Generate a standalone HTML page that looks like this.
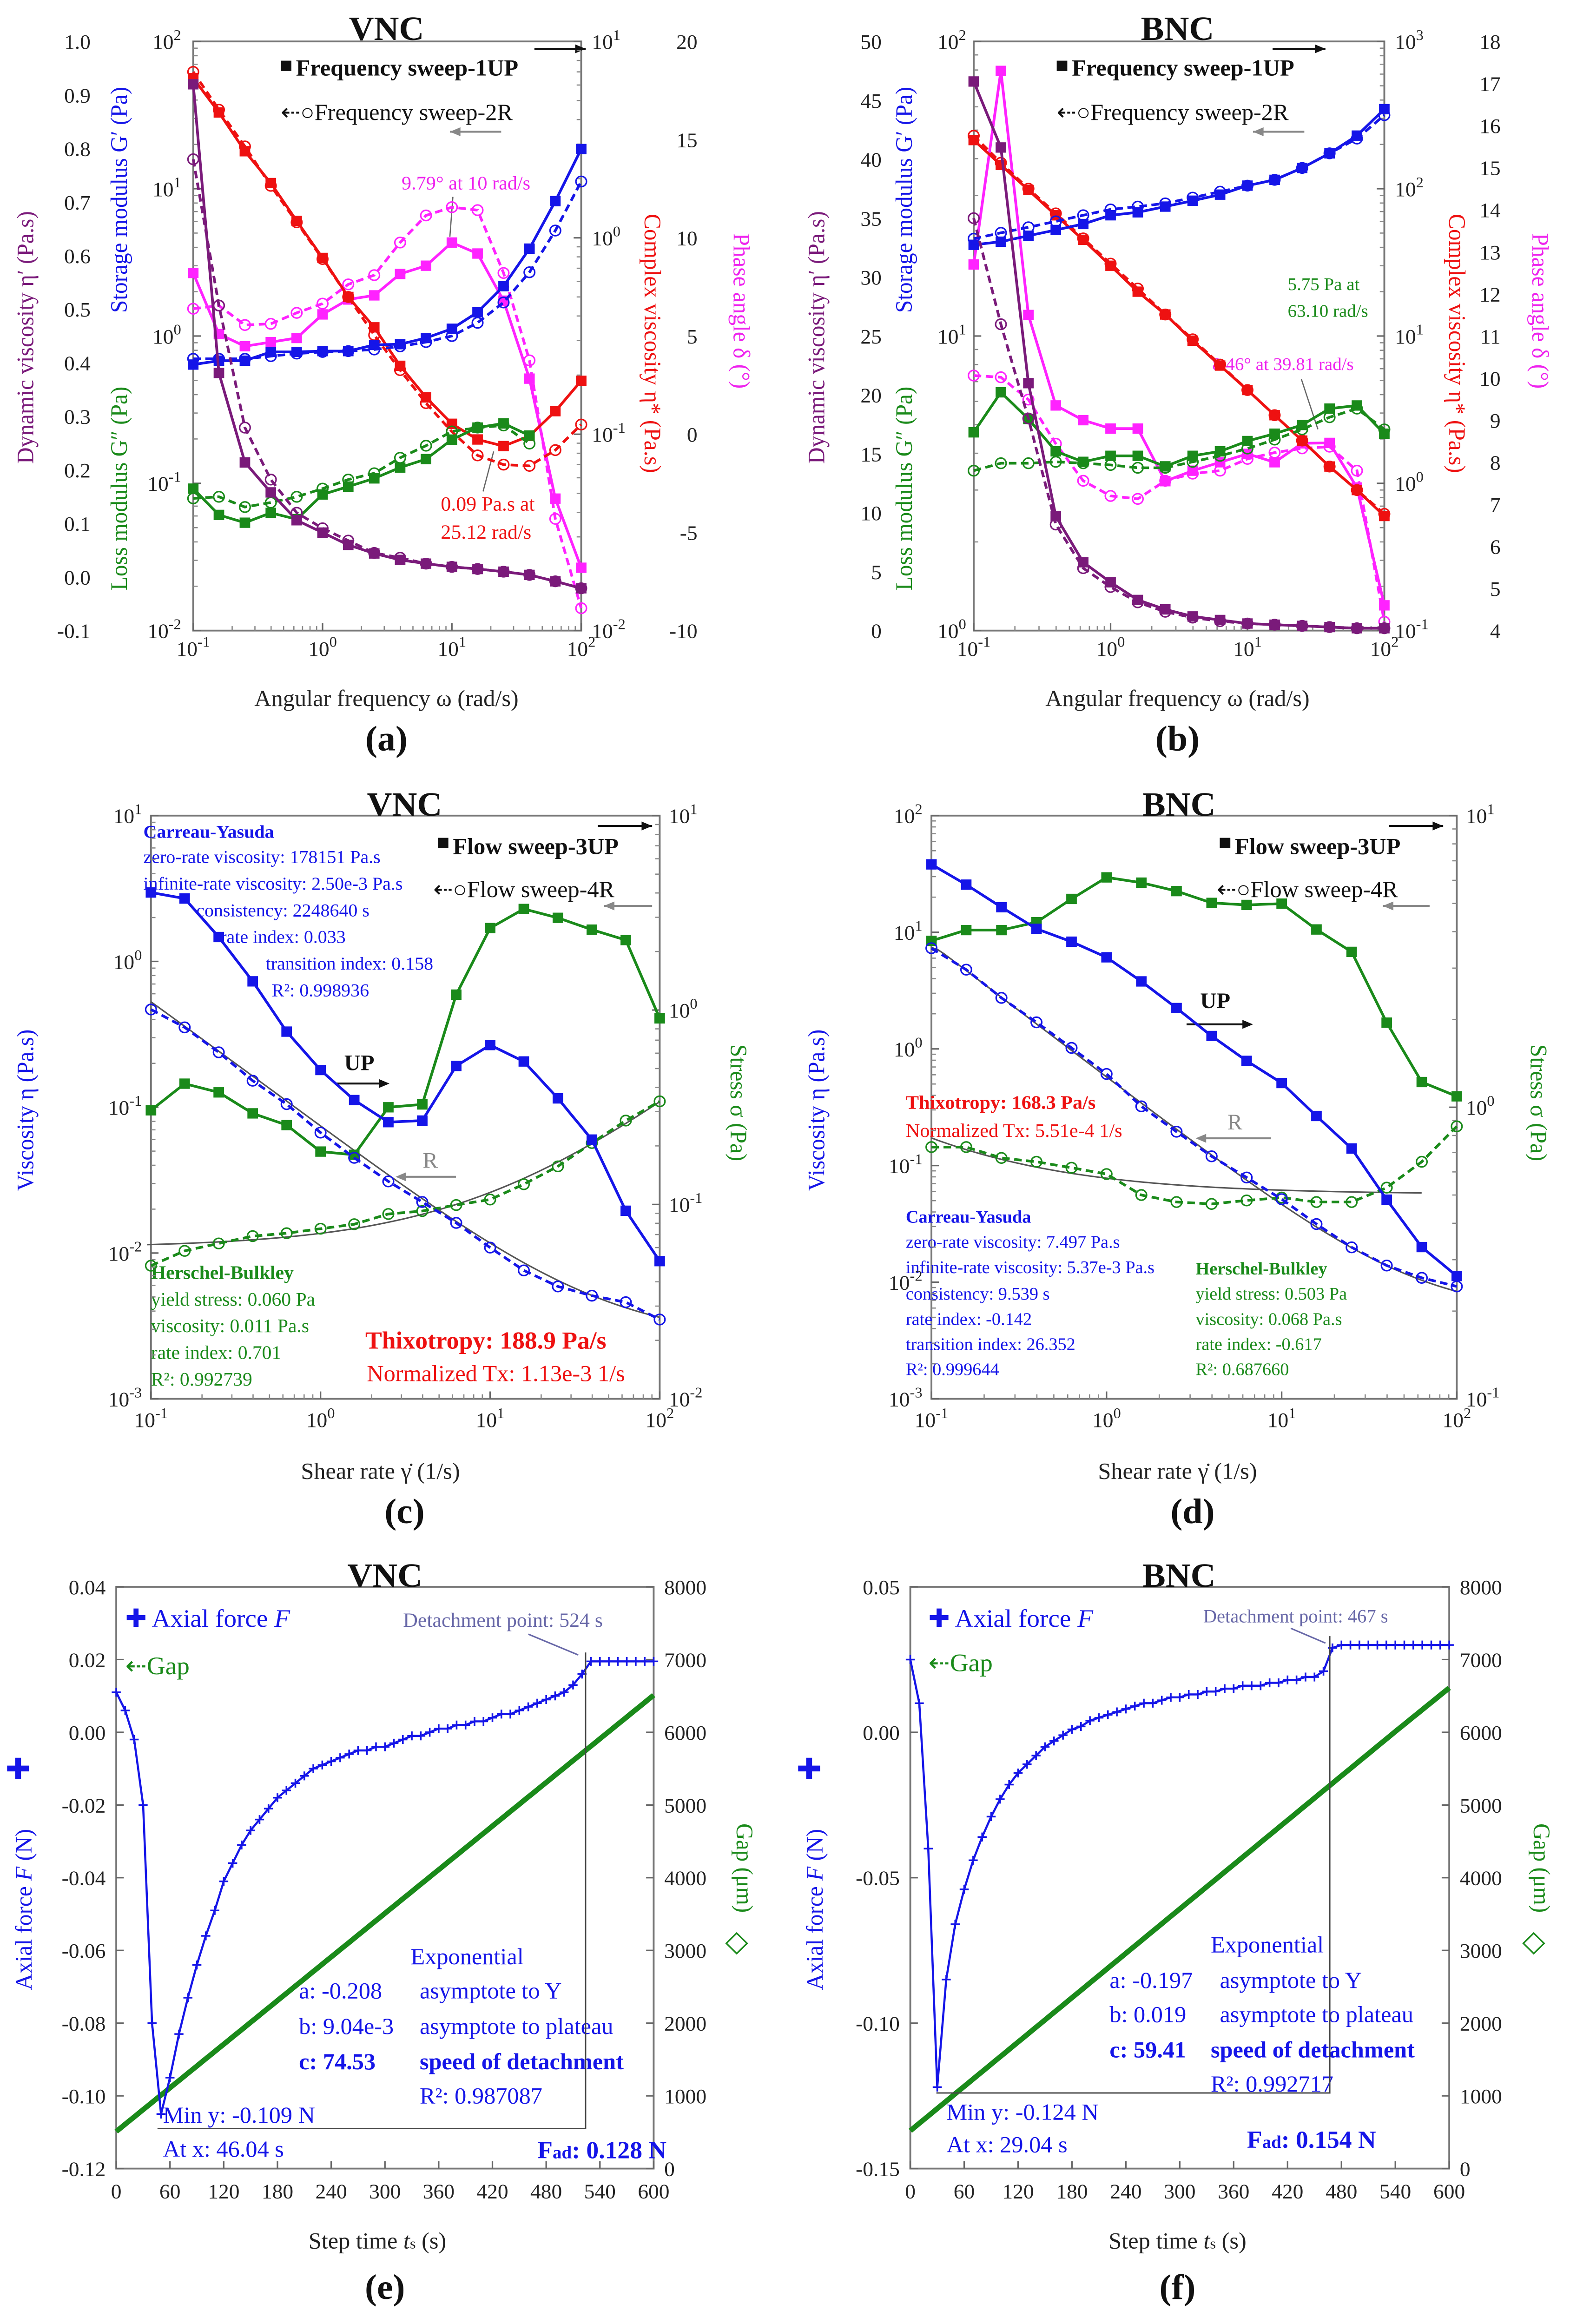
<!DOCTYPE html>
<html><head><meta charset="utf-8">
<style>
html,body{margin:0;padding:0;background:#fff;width:100%;height:100%;overflow:hidden}
svg{display:block;position:fixed;left:0;top:0;width:100vw;height:100vh;overflow:hidden}
text{font-family:"Liberation Serif",serif}
</style></head>
<body>
<svg id="fig" viewBox="0 0 1040 1570" preserveAspectRatio="none" xmlns="http://www.w3.org/2000/svg">
<rect x="0" y="0" width="1040" height="1570" fill="#fff"/>
<!-- frames -->
<rect x="128" y="28" width="257" height="398" fill="none" stroke="#777" stroke-width="1.2"/>
<rect x="645" y="28" width="272" height="398" fill="none" stroke="#777" stroke-width="1.2"/>
<rect x="100" y="551" width="337" height="394" fill="none" stroke="#777" stroke-width="1.2"/>
<rect x="617" y="551" width="348" height="394" fill="none" stroke="#777" stroke-width="1.2"/>
<rect x="77" y="1072" width="356" height="393" fill="none" stroke="#777" stroke-width="1.2"/>
<rect x="603" y="1072" width="357" height="393" fill="none" stroke="#777" stroke-width="1.2"/>

<!-- titles -->
<g font-weight="bold" font-size="23" text-anchor="middle" fill="#111">
<text x="256" y="27">VNC</text>
<text x="780" y="27">BNC</text>
<text x="268" y="551">VNC</text>
<text x="781" y="551">BNC</text>
<text x="255" y="1072">VNC</text>
<text x="781" y="1072">BNC</text>
<text x="256" y="507" font-size="24">(a)</text>
<text x="780" y="507" font-size="24">(b)</text>
<text x="268" y="1029" font-size="24">(c)</text>
<text x="790" y="1029" font-size="24">(d)</text>
<text x="255" y="1553" font-size="24">(e)</text>
<text x="780" y="1553" font-size="24">(f)</text>
</g>

<!-- x axis titles -->
<g font-size="15.5" text-anchor="middle" fill="#222">
<text x="256" y="477">Angular frequency  ω  (rad/s)</text>
<text x="780" y="477">Angular frequency  ω  (rad/s)</text>
<text x="252" y="999">Shear rate  γ̇  (1/s)</text>
<text x="780" y="999">Shear rate  γ̇  (1/s)</text>
<text x="250" y="1519">Step time  <tspan font-style="italic">t</tspan><tspan font-size="10">s</tspan>  (s)</text>
<text x="780" y="1519">Step time  <tspan font-style="italic">t</tspan><tspan font-size="10">s</tspan>  (s)</text>
</g>

<!-- y axis titles -->
<g font-size="15.5" text-anchor="middle">
<text transform="rotate(-90 22 228)" x="22" y="228" fill="#7a1a7a">Dynamic viscosity  η′  (Pa.s)</text>
<text transform="rotate(-90 84 135)" x="84" y="135" fill="#1515e8">Storage modulus  G′  (Pa)</text>
<text transform="rotate(-90 84 330)" x="84" y="330" fill="#1a8a1a">Loss modulus  G″  (Pa)</text>
<text transform="rotate(90 427 232)" x="427" y="232" fill="#ee1111">Complex viscosity  η*  (Pa.s)</text>
<text transform="rotate(90 486 210)" x="486" y="210" fill="#ee22ee">Phase angle  δ  (°)</text>

<text transform="rotate(-90 546 228)" x="546" y="228" fill="#7a1a7a">Dynamic viscosity  η′  (Pa.s)</text>
<text transform="rotate(-90 604 135)" x="604" y="135" fill="#1515e8">Storage modulus  G′  (Pa)</text>
<text transform="rotate(-90 604 330)" x="604" y="330" fill="#1a8a1a">Loss modulus  G″  (Pa)</text>
<text transform="rotate(90 960 232)" x="960" y="232" fill="#ee1111">Complex viscosity  η*  (Pa.s)</text>
<text transform="rotate(90 1015 210)" x="1015" y="210" fill="#ee22ee">Phase angle  δ  (°)</text>

<text transform="rotate(-90 22 750)" x="22" y="750" fill="#1515e8">Viscosity  η  (Pa.s)</text>
<text transform="rotate(90 484 745)" x="484" y="745" fill="#1a8a1a">Stress  σ  (Pa)</text>
<text transform="rotate(-90 546 750)" x="546" y="750" fill="#1515e8">Viscosity  η  (Pa.s)</text>
<text transform="rotate(90 1014 745)" x="1014" y="745" fill="#1a8a1a">Stress  σ  (Pa)</text>

<text transform="rotate(-90 21 1290)" x="21" y="1290" fill="#1515e8">Axial force  <tspan font-style="italic">F</tspan>  (N)</text>
<text x="12" y="1202" fill="#1515e8" font-size="20">✚</text>
<text transform="rotate(90 488 1262)" x="488" y="1262" fill="#1a8a1a">Gap  (μm)</text>
<text x="488" y="1318" fill="#1a8a1a" font-size="20">◇</text>
<text transform="rotate(-90 545 1290)" x="545" y="1290" fill="#1515e8">Axial force  <tspan font-style="italic">F</tspan>  (N)</text>
<text x="536" y="1202" fill="#1515e8" font-size="20">✚</text>
<text transform="rotate(90 1016 1262)" x="1016" y="1262" fill="#1a8a1a">Gap  (μm)</text>
<text x="1016" y="1318" fill="#1a8a1a" font-size="20">◇</text>
</g>

<!-- legends a,b -->
<g font-size="15.5" fill="#111">
<rect x="186" y="41" width="7" height="7" fill="#111"/>
<text x="196" y="51" font-weight="bold">Frequency sweep-1UP</text>
<text x="186" y="81">⇠○Frequency sweep-2R</text>
<line x1="354" y1="33" x2="388" y2="33" stroke="#111" stroke-width="1.3"/>
<path d="M388,33 l-7,-3 v6z" fill="#111"/>
<line x1="298" y1="89" x2="332" y2="89" stroke="#888" stroke-width="1.3"/>
<path d="M298,89 l7,-3 v6z" fill="#888"/>

<rect x="700" y="41" width="7" height="7" fill="#111"/>
<text x="710" y="51" font-weight="bold">Frequency sweep-1UP</text>
<text x="700" y="81">⇠○Frequency sweep-2R</text>
<line x1="843" y1="33" x2="878" y2="33" stroke="#111" stroke-width="1.3"/>
<path d="M878,33 l-7,-3 v6z" fill="#111"/>
<line x1="830" y1="89" x2="864" y2="89" stroke="#888" stroke-width="1.3"/>
<path d="M830,89 l7,-3 v6z" fill="#888"/>

<!-- legends c,d -->
<rect x="290" y="566" width="7" height="7" fill="#111"/>
<text x="300" y="577" font-weight="bold">Flow sweep-3UP</text>
<text x="287" y="606">⇠○Flow sweep-4R</text>
<line x1="396" y1="558" x2="432" y2="558" stroke="#111" stroke-width="1.3"/>
<path d="M432,558 l-7,-3 v6z" fill="#111"/>
<line x1="400" y1="612" x2="432" y2="612" stroke="#888" stroke-width="1.3"/>
<path d="M400,612 l7,-3 v6z" fill="#888"/>

<rect x="808" y="566" width="7" height="7" fill="#111"/>
<text x="818" y="577" font-weight="bold">Flow sweep-3UP</text>
<text x="806" y="606">⇠○Flow sweep-4R</text>
<line x1="920" y1="558" x2="956" y2="558" stroke="#111" stroke-width="1.3"/>
<path d="M956,558 l-7,-3 v6z" fill="#111"/>
<line x1="916" y1="612" x2="947" y2="612" stroke="#888" stroke-width="1.3"/>
<path d="M916,612 l7,-3 v6z" fill="#888"/>
</g>

<!-- annotations a,b -->
<g font-size="13">
<text x="266" y="128" fill="#ee22ee">9.79° at 10 rad/s</text>
<line x1="300" y1="133" x2="298" y2="160" stroke="#666" stroke-width="0.8"/>
<text x="292" y="345" fill="#ee1111" font-size="13.5">0.09 Pa.s at</text>
<text x="292" y="364" fill="#ee1111" font-size="13.5">25.12 rad/s</text>
<line x1="320" y1="332" x2="327" y2="305" stroke="#666" stroke-width="0.8"/>
<text x="853" y="196" fill="#1a8a1a" font-size="12">5.75 Pa at</text>
<text x="853" y="214" fill="#1a8a1a" font-size="12">63.10 rad/s</text>
<text x="803" y="250" fill="#ee22ee" font-size="12">8.46° at 39.81 rad/s</text>
<line x1="862" y1="256" x2="873" y2="290" stroke="#666" stroke-width="0.8"/>
</g>

<!-- annotations c -->
<g font-size="12.3" fill="#1515e8">
<text x="95" y="566" font-weight="bold">Carreau-Yasuda</text>
<text x="95" y="583">zero-rate viscosity: 178151 Pa.s</text>
<text x="95" y="601">infinite-rate viscosity: 2.50e-3 Pa.s</text>
<text x="130" y="619">consistency: 2248640 s</text>
<text x="146" y="637">rate index: 0.033</text>
<text x="176" y="655">transition index: 0.158</text>
<text x="180" y="673">R²: 0.998936</text>
</g>
<g fill="#1a8a1a" font-size="12.8">
<text x="100" y="864" font-weight="bold">Herschel-Bulkley</text>
<text x="100" y="882">yield stress: 0.060 Pa</text>
<text x="100" y="900">viscosity: 0.011 Pa.s</text>
<text x="100" y="918">rate index: 0.701</text>
<text x="100" y="936">R²: 0.992739</text>
</g>
<text x="242" y="911" fill="#ee1111" font-size="16.5" font-weight="bold">Thixotropy: 188.9 Pa/s</text>
<text x="243" y="933" fill="#ee1111" font-size="15.5">Normalized Tx: 1.13e-3 1/s</text>
<text x="228" y="723" font-size="15" font-weight="bold" fill="#111">UP</text>
<line x1="222" y1="732" x2="256" y2="732" stroke="#111" stroke-width="1.3"/>
<path d="M258,732 l-7,-3 v6z" fill="#111"/>
<text x="280" y="789" font-size="15" fill="#888">R</text>
<line x1="264" y1="795" x2="302" y2="795" stroke="#888" stroke-width="1.3"/>
<path d="M262,795 l7,-3 v6z" fill="#888"/>

<!-- annotations d -->
<text x="600" y="749" fill="#ee1111" font-size="13" font-weight="bold">Thixotropy: 168.3 Pa/s</text>
<text x="600" y="768" fill="#ee1111" font-size="13">Normalized Tx: 5.51e-4 1/s</text>
<g font-size="11.8" fill="#1515e8">
<text x="600" y="826" font-weight="bold">Carreau-Yasuda</text>
<text x="600" y="843">zero-rate viscosity: 7.497 Pa.s</text>
<text x="600" y="860">infinite-rate viscosity: 5.37e-3 Pa.s</text>
<text x="600" y="878">consistency: 9.539 s</text>
<text x="600" y="895">rate index: -0.142</text>
<text x="600" y="912">transition index: 26.352</text>
<text x="600" y="929">R²: 0.999644</text>
</g>
<g font-size="11.8" fill="#1a8a1a">
<text x="792" y="861" font-weight="bold">Herschel-Bulkley</text>
<text x="792" y="878">yield stress: 0.503 Pa</text>
<text x="792" y="895">viscosity: 0.068 Pa.s</text>
<text x="792" y="912">rate index: -0.617</text>
<text x="792" y="929">R²: 0.687660</text>
</g>
<text x="795" y="681" font-size="15" font-weight="bold" fill="#111">UP</text>
<line x1="786" y1="692" x2="828" y2="692" stroke="#111" stroke-width="1.3"/>
<path d="M830,692 l-7,-3 v6z" fill="#111"/>
<text x="813" y="763" font-size="15" fill="#888">R</text>
<line x1="796" y1="769" x2="842" y2="769" stroke="#888" stroke-width="1.3"/>
<path d="M792,769 l7,-3 v6z" fill="#888"/>

<!-- annotations e -->
<g font-size="17" fill="#1515e8">
<text x="83" y="1099">✚ Axial force <tspan font-style="italic">F</tspan></text>
<text x="615" y="1099">✚ Axial force <tspan font-style="italic">F</tspan></text>
</g>
<g font-size="17" fill="#1a8a1a">
<text x="83" y="1131">⇠Gap</text>
<text x="615" y="1129">⇠Gap</text>
</g>
<text x="267" y="1099" font-size="13.5" fill="#6868a8">Detachment point: 524 s</text>
<line x1="350" y1="1104" x2="383" y2="1118" stroke="#6868a8" stroke-width="1"/>
<text x="797" y="1096" font-size="12.5" fill="#6868a8">Detachment point: 467 s</text>
<line x1="855" y1="1100" x2="878" y2="1110" stroke="#6868a8" stroke-width="1"/>
<g font-size="15.5" fill="#1515e8">
<text x="272" y="1327">Exponential</text>
<text x="198" y="1350">a: -0.208</text>
<text x="278" y="1350">asymptote to Y</text>
<text x="198" y="1374">b: 9.04e-3</text>
<text x="278" y="1374">asymptote to plateau</text>
<text x="198" y="1398" font-weight="bold">c: 74.53</text>
<text x="278" y="1398" font-weight="bold">speed of detachment</text>
<text x="278" y="1421">R²: 0.987087</text>
<text x="108" y="1434">Min y: -0.109 N</text>
<text x="108" y="1457">At x: 46.04 s</text>
<text x="356" y="1458" font-weight="bold" font-size="16.5">F<tspan font-size="12">ad</tspan>: 0.128 N</text>

<text x="802" y="1319">Exponential</text>
<text x="735" y="1343">a: -0.197</text>
<text x="808" y="1343">asymptote to Y</text>
<text x="735" y="1366">b: 0.019</text>
<text x="808" y="1366">asymptote to plateau</text>
<text x="735" y="1390" font-weight="bold">c: 59.41</text>
<text x="802" y="1390" font-weight="bold">speed of detachment</text>
<text x="802" y="1413">R²: 0.992717</text>
<text x="627" y="1432">Min y: -0.124 N</text>
<text x="627" y="1454">At x: 29.04 s</text>
<text x="826" y="1451" font-weight="bold" font-size="16.5">F<tspan font-size="12">ad</tspan>: 0.154 N</text>
</g>
</svg>

<script>
// ---------------- DATA ----------------
const freq = [0.1,0.158,0.251,0.398,0.631,1,1.58,2.51,3.98,6.31,10,15.8,25.1,39.8,63.1,100];
const freqG = [0.1,0.158,0.251,0.398,0.631,1,1.58,2.51,3.98,6.31,10,15.8,25.1,39.8];
// panel a
const aGp1 = [0.64,0.68,0.68,0.78,0.78,0.79,0.79,0.87,0.88,0.97,1.12,1.45,2.18,3.92,8.24,18.6];
const aGp2 = [0.70,0.70,0.70,0.73,0.76,0.78,0.79,0.81,0.85,0.91,1.0,1.23,1.69,2.71,5.2,11.2];
const aGpp1 = [0.092,0.061,0.054,0.063,0.057,0.084,0.095,0.108,0.128,0.146,0.198,0.239,0.255,0.211];
const aGpp2 = [0.079,0.081,0.069,0.074,0.081,0.092,0.106,0.117,0.149,0.180,0.225,0.239,0.247,0.186];
const aEta1 = [6.5,4.35,2.76,1.9,1.22,0.79,0.50,0.35,0.223,0.154,0.113,0.094,0.087,0.098,0.131,0.187];
const aEta2 = [7.0,4.49,2.92,1.84,1.2,0.78,0.50,0.32,0.212,0.144,0.103,0.078,0.070,0.069,0.083,0.112];
const aEp1 = [0.920,0.381,0.214,0.158,0.106,0.083,0.060,0.044,0.032,0.025,0.019,0.015,0.010,0.004,-0.008,-0.021];
const aEp2 = [0.780,0.507,0.279,0.182,0.120,0.091,0.068,0.045,0.036,0.025,0.019,0.015,0.010,0.004,-0.008,-0.021];
const aPh1 = [8.21,5.10,4.48,4.69,4.90,6.10,6.86,7.07,8.16,8.58,9.76,9.20,6.80,2.83,-3.28,-6.80];
const aPh2 = [6.39,6.55,5.56,5.62,6.18,6.65,7.63,8.10,9.76,11.14,11.56,11.41,8.21,3.76,-4.31,-8.86];
// panel b
const bGp1 = [20.4,20.9,21.9,22.9,24.0,25.7,26.3,27.5,28.8,30.2,32.4,33.9,37.2,41.7,47.9,58.9];
const bGp2 = [21.4,22.4,23.4,24.5,25.7,26.9,27.5,28.2,29.5,30.9,32.4,33.9,37.2,41.7,46.8,56.2];
const bGpp1 = [4.71,6.44,5.23,4.06,3.74,3.92,3.92,3.61,3.92,4.06,4.40,4.66,4.99,5.67,5.81,4.66];
const bGpp2 = [3.49,3.70,3.70,3.74,3.70,3.65,3.57,3.57,3.74,3.92,4.15,4.45,4.82,5.30,5.67,4.82];
const bEta1 = [214,145,98,66,45,30,20,14,9.3,6.3,4.3,2.9,1.95,1.3,0.9,0.6];
const bEta2 = [229,150,100,68,46,31,21,14,9.5,6.4,4.3,2.9,1.95,1.3,0.9,0.62];
const bEp1 = [46.6,41,21,9.7,5.8,4.1,2.6,1.8,1.2,0.9,0.6,0.5,0.4,0.3,0.2,0.2];
const bEp2 = [35,26,18,9.0,5.3,3.7,2.4,1.6,1.1,0.8,0.6,0.5,0.4,0.3,0.2,0.2];
const bPh1 = [12.7,17.3,11.5,9.35,9.0,8.8,8.8,7.55,7.8,8.0,8.2,8.0,8.45,8.46,7.4,4.6];
const bPh2 = [10.06,10.02,9.49,8.44,7.56,7.20,7.13,7.56,7.73,7.80,8.08,8.23,8.33,8.37,7.80,4.21];
// panel c
const cV1 = [2.97,2.70,1.47,0.73,0.33,0.18,0.112,0.079,0.081,0.192,0.267,0.206,0.115,0.060,0.0195,0.0088];
const cV2 = [0.468,0.353,0.238,0.152,0.105,0.067,0.045,0.031,0.0224,0.0161,0.0109,0.0076,0.0059,0.0051,0.0046,0.0035];
const cS1 = [0.305,0.418,0.377,0.294,0.256,0.187,0.180,0.316,0.327,1.20,2.64,3.31,2.98,2.59,2.29,0.906];
const cS2 = [0.0484,0.0577,0.0630,0.0687,0.0711,0.0750,0.0791,0.0893,0.0925,0.0993,0.106,0.127,0.157,0.207,0.270,0.339];
// panel d
const dV1 = [38.2,25.6,16.4,10.7,8.3,6.1,3.79,2.24,1.29,0.79,0.51,0.266,0.140,0.051,0.020,0.0113];
const dV2 = [7.3,4.78,2.74,1.69,1.02,0.61,0.322,0.195,0.120,0.079,0.0515,0.0315,0.0199,0.0139,0.0109,0.0092];
const dS1 = [3.72,4.05,4.05,4.31,5.18,6.14,5.89,5.51,5.02,4.94,4.99,4.07,3.41,1.95,1.22,1.09];
const dS2 = [0.73,0.73,0.67,0.65,0.62,0.59,0.50,0.473,0.466,0.479,0.49,0.473,0.473,0.53,0.65,0.86];
// fit parameters (printed on chart)
const cCY = [178151,2.50e-3,2248640,0.033,0.158];
const cHB = [0.060,0.011,0.701];
const dCY = [7.497,5.37e-3,9.539,-0.142,26.352];
const dHB = [0.503,0.068,-0.617];
// panel e/f
const tF = [0,10,20,30,40,50,60,70,80,90,100,110,120,130,140,150,160,170,180,190,200,210,220,230,240,250,260,270,280,290,300,310,320,330,340,350,360,370,380,390,400,410,420,430,440,450,460,470,480,490,500,510,520,530,540,550,560,570,580,590,600];
const eF = [0.011,0.006,-0.002,-0.02,-0.08,-0.105,-0.095,-0.083,-0.073,-0.064,-0.056,-0.049,-0.041,-0.036,-0.031,-0.027,-0.024,-0.021,-0.018,-0.016,-0.014,-0.012,-0.010,-0.009,-0.008,-0.007,-0.006,-0.005,-0.005,-0.004,-0.004,-0.003,-0.002,-0.001,-0.001,0.000,0.001,0.001,0.002,0.002,0.003,0.003,0.004,0.005,0.005,0.006,0.007,0.008,0.009,0.010,0.011,0.013,0.016,0.0195,0.0195,0.0195,0.0195,0.0195,0.0195,0.0195,0.0195];
const fF = [0.025,0.01,-0.04,-0.122,-0.085,-0.066,-0.054,-0.044,-0.036,-0.029,-0.023,-0.018,-0.014,-0.011,-0.008,-0.005,-0.003,-0.001,0.001,0.002,0.004,0.005,0.006,0.007,0.008,0.009,0.010,0.010,0.011,0.012,0.012,0.013,0.013,0.014,0.014,0.015,0.015,0.016,0.016,0.016,0.017,0.017,0.018,0.018,0.019,0.019,0.021,0.029,0.030,0.030,0.030,0.030,0.030,0.030,0.030,0.030,0.030,0.030,0.030,0.030,0.030];
const tGap = [0,60,120,180,240,300,360,420,480,540,600];
const eGap = [510,1110,1710,2310,2910,3510,4110,4710,5310,5910,6510];
const fGap = [520,1130,1740,2350,2960,3570,4180,4790,5400,6010,6610];
const eDetach = [46.04,-0.109,524,0.0195];
const fDetach = [29.04,-0.124,467,0.030];

// tick values
const logX = [0.1,1,10,100];
const logXLabels = ['1e-1','1e0','1e1','1e2'];
const aEpTicks = [-0.1,0,0.1,0.2,0.3,0.4,0.5,0.6,0.7,0.8,0.9,1.0];
const aEpLabels = ['-0.1','0.0','0.1','0.2','0.3','0.4','0.5','0.6','0.7','0.8','0.9','1.0'];
const aGTicks = [0.01,0.1,1,10,100];
const aGLabels = ['1e-2','1e-1','1e0','1e1','1e2'];
const aEtaTicks = [0.01,0.1,1,10];
const aEtaLabels = ['1e-2','1e-1','1e0','1e1'];
const aPhTicks = [-10,-5,0,5,10,15,20];
const aPhLabels = ['-10','-5','0','5','10','15','20'];
const bEpTicks = [0,5,10,15,20,25,30,35,40,45,50];
const bEpLabels = ['0','5','10','15','20','25','30','35','40','45','50'];
const bGTicks = [1,10,100];
const bGLabels = ['1e0','1e1','1e2'];
const bEtaTicks = [0.1,1,10,100,1000];
const bEtaLabels = ['1e-1','1e0','1e1','1e2','1e3'];
const bPhTicks = [4,5,6,7,8,9,10,11,12,13,14,15,16,17,18];
const bPhLabels = ['4','5','6','7','8','9','10','11','12','13','14','15','16','17','18'];
const cVTicks = [0.001,0.01,0.1,1,10];
const cVLabels = ['1e-3','1e-2','1e-1','1e0','1e1'];
const cSTicks = [0.01,0.1,1,10];
const cSLabels = ['1e-2','1e-1','1e0','1e1'];
const dVTicks = [0.001,0.01,0.1,1,10,100];
const dVLabels = ['1e-3','1e-2','1e-1','1e0','1e1','1e2'];
const dSTicks = [0.1,1,10];
const dSLabels = ['1e-1','1e0','1e1'];
const tTicks = [0,60,120,180,240,300,360,420,480,540,600];
const tLabels = ['0','60','120','180','240','300','360','420','480','540','600'];
const eFTicks = [-0.12,-0.10,-0.08,-0.06,-0.04,-0.02,0,0.02,0.04];
const eFLabels = ['-0.12','-0.10','-0.08','-0.06','-0.04','-0.02','0.00','0.02','0.04'];
const fFTicks = [-0.15,-0.10,-0.05,0,0.05];
const fFLabels = ['-0.15','-0.10','-0.05','0.00','0.05'];
const gapTicks = [0,1000,2000,3000,4000,5000,6000,7000,8000];
const gapLabels = ['0','1000','2000','3000','4000','5000','6000','7000','8000'];

// ---------------- HELPERS ----------------
const NS='http://www.w3.org/2000/svg';
const fig=document.getElementById('fig');
function mk(tag,attrs){const e=document.createElementNS(NS,tag);for(const k in attrs)e.setAttribute(k,attrs[k]);fig.appendChild(e);return e;}
function logMap(lo,hi,p0,p1){const a=Math.log10(lo),b=Math.log10(hi);return v=>p0+(Math.log10(v)-a)/(b-a)*(p1-p0);}
function linMap(lo,hi,p0,p1){return v=>p0+(v-lo)/(hi-lo)*(p1-p0);}
function setLabel(tx,s){
  if(s.startsWith('1e')){
    tx.appendChild(document.createTextNode('10'));
    const sp=document.createElementNS(NS,'tspan');
    sp.setAttribute('dy','-6');sp.setAttribute('font-size','10');
    sp.textContent=s.slice(2);tx.appendChild(sp);
  } else tx.textContent=s;
}
function yAxis(name,vals,labels,f,axisX,labelX,anchor,dir){
  vals.forEach((v,i)=>{const y=f(v);
    const t=mk('line',{x1:axisX,x2:axisX+dir*5,y1:y,y2:y,stroke:'#666','stroke-width':1});
    
    
    const tx=mk('text',{x:labelX,y:y+5,'text-anchor':anchor,'font-size':14,fill:'#222'});
    
    
    setLabel(tx,labels[i]);
  });
}
function xAxis(name,vals,labels,f,axisY,labelY){
  vals.forEach((v,i)=>{const x=f(v);
    const t=mk('line',{x1:x,x2:x,y1:axisY,y2:axisY-5,stroke:'#666','stroke-width':1});
    
    
    const tx=mk('text',{x:x,y:labelY,'text-anchor':'middle','font-size':14,fill:'#222'});
    
    
    setLabel(tx,labels[i]);
  });
}
function minorLog(name,lo,hi,f,pos,dir,vertical){
  for(let d=lo;d<hi*0.999;d*=10){for(let k=2;k<10;k++){const p=f(d*k);
    const t=vertical?mk('line',{x1:pos,x2:pos+dir*3,y1:p,y2:p,stroke:'#888','stroke-width':0.8}):mk('line',{x1:p,x2:p,y1:pos,y2:pos+dir*3,stroke:'#888','stroke-width':0.8});
    
    
  }}
}
function series(name,xs,ys,fx,fy,color,dashed,marker,sw,ms){
  const pts=xs.map((x,i)=>fx(x).toFixed(2)+','+fy(ys[i]).toFixed(2)).join(' ');
  const pl=mk('polyline',{points:pts,fill:'none',stroke:color,'stroke-width':sw||1.8,'stroke-dasharray':dashed?'5,3':'none'});
  
  
  const s=ms||3.5;
  xs.forEach((x,i)=>{const cx=fx(x),cy=fy(ys[i]);let m;
    if(marker==='sq'){m=mk('rect',{x:cx-s,y:cy-s,width:2*s,height:2*s,fill:color});}
    else if(marker==='ci'){m=mk('circle',{cx:cx,cy:cy,r:s,fill:'none',stroke:color,'stroke-width':1});}
    else if(marker==='pl'){m=mk('path',{d:'M'+(cx-s)+','+cy+'h'+(2*s)+'M'+cx+','+(cy-s)+'v'+(2*s),stroke:color,'stroke-width':1.1});}
    else return;
    
    
  });
}
function curve(name,fn,lo,hi,fx,fy,color){
  const pts=[];for(let i=0;i<=80;i++){const x=lo*Math.pow(hi/lo,i/80);pts.push(fx(x).toFixed(2)+','+fy(fn(x)).toFixed(2));}
  const pl=mk('polyline',{points:pts.join(' '),fill:'none',stroke:color,'stroke-width':1});
  
  
}
const BL='#1515e8',GR='#1a8a1a',RD='#ee1111',MG='#ff22ff',PU='#7a1a7a';

// ---------------- PANEL A ----------------
{const fx=logMap(0.1,100,128,385);
 const fG=logMap(0.01,100,426,28), fE=logMap(0.01,10,426,28), fP=linMap(-10,20,426,28), fL=linMap(-0.1,1.0,426,28);
 xAxis('x-axis-a',logX,logXLabels,fx,426,443); minorLog('x-axis-a',0.1,100,fx,426,-1,false);
 yAxis('y-axis-dynamic-viscosity-a',aEpTicks,aEpLabels,fL,128,60,'end',0);
 yAxis('y-axis-modulus-a',aGTicks,aGLabels,fG,128,120,'end',1); minorLog('y-axis-modulus-a',0.01,100,fG,128,1,true);
 yAxis('y-axis-complex-viscosity-a',aEtaTicks,aEtaLabels,fE,385,392,'start',-1); minorLog('y-axis-complex-viscosity-a',0.01,10,fE,385,-1,true);
 yAxis('y-axis-phase-angle-a',aPhTicks,aPhLabels,fP,385,462,'end',0);
 series('phase-up-a',freq,aPh1,fx,fP,MG,false,'sq');
 series('phase-r-a',freq,aPh2,fx,fP,MG,true,'ci');
 series('complex-viscosity-up-a',freq,aEta1,fx,fE,RD,false,'sq');
 series('complex-viscosity-r-a',freq,aEta2,fx,fE,RD,true,'ci');
 series('storage-modulus-up-a',freq,aGp1,fx,fG,BL,false,'sq');
 series('storage-modulus-r-a',freq,aGp2,fx,fG,BL,true,'ci');
 series('loss-modulus-up-a',freqG,aGpp1,fx,fG,GR,false,'sq');
 series('loss-modulus-r-a',freqG,aGpp2,fx,fG,GR,true,'ci');
 series('dynamic-viscosity-up-a',freq,aEp1,fx,fL,PU,false,'sq');
 series('dynamic-viscosity-r-a',freq,aEp2,fx,fL,PU,true,'ci');
}
// ---------------- PANEL B ----------------
{const fx=logMap(0.1,100,645,917);
 const fG=logMap(1,100,426,28), fE=logMap(0.1,1000,426,28), fP=linMap(4,18,426,28), fL=linMap(0,50,426,28);
 xAxis('x-axis-b',logX,logXLabels,fx,426,443); minorLog('x-axis-b',0.1,100,fx,426,-1,false);
 yAxis('y-axis-dynamic-viscosity-b',bEpTicks,bEpLabels,fL,645,584,'end',0);
 yAxis('y-axis-modulus-b',bGTicks,bGLabels,fG,645,640,'end',1); minorLog('y-axis-modulus-b',1,100,fG,645,1,true);
 yAxis('y-axis-complex-viscosity-b',bEtaTicks,bEtaLabels,fE,917,924,'start',-1); minorLog('y-axis-complex-viscosity-b',0.1,1000,fE,917,-1,true);
 yAxis('y-axis-phase-angle-b',bPhTicks,bPhLabels,fP,917,994,'end',0);
 series('phase-up-b',freq,bPh1,fx,fP,MG,false,'sq');
 series('phase-r-b',freq,bPh2,fx,fP,MG,true,'ci');
 series('complex-viscosity-up-b',freq,bEta1,fx,fE,RD,false,'sq');
 series('complex-viscosity-r-b',freq,bEta2,fx,fE,RD,true,'ci');
 series('storage-modulus-up-b',freq,bGp1,fx,fG,BL,false,'sq');
 series('storage-modulus-r-b',freq,bGp2,fx,fG,BL,true,'ci');
 series('loss-modulus-up-b',freq,bGpp1,fx,fG,GR,false,'sq');
 series('loss-modulus-r-b',freq,bGpp2,fx,fG,GR,true,'ci');
 series('dynamic-viscosity-up-b',freq,bEp1,fx,fL,PU,false,'sq');
 series('dynamic-viscosity-r-b',freq,bEp2,fx,fL,PU,true,'ci');
}
function cy(p){return g=>p[1]+(p[0]-p[1])*Math.pow(1+Math.pow(p[2]*g,p[4]),(p[3]-1)/p[4]);}
function hb(p){return g=>p[0]+p[1]*Math.pow(g,p[2]);}
// ---------------- PANEL C ----------------
{const fx=logMap(0.1,100,100,437);
 const fV=logMap(0.001,10,945,551), fS=logMap(0.01,10,945,551);
 xAxis('x-axis-c',logX,logXLabels,fx,945,964); minorLog('x-axis-c',0.1,100,fx,945,-1,false);
 yAxis('y-axis-viscosity-c',cVTicks,cVLabels,fV,100,94,'end',1); minorLog('y-axis-viscosity-c',0.001,10,fV,100,1,true);
 yAxis('y-axis-stress-c',cSTicks,cSLabels,fS,437,443,'start',-1); minorLog('y-axis-stress-c',0.01,10,fS,437,-1,true);
 curve('carreau-fit-c',cy(cCY),0.1,100,fx,fV,'#555');
 curve('herschel-fit-c',hb(cHB),0.095,100,fx,fS,'#555');
 series('stress-up-c',freq,cS1,fx,fS,GR,false,'sq');
 series('stress-r-c',freq,cS2,fx,fS,GR,true,'ci');
 series('viscosity-up-c',freq,cV1,fx,fV,BL,false,'sq');
 series('viscosity-r-c',freq,cV2,fx,fV,BL,true,'ci');
}
// ---------------- PANEL D ----------------
{const fx=logMap(0.1,100,617,965);
 const fV=logMap(0.001,100,945,551), fS=logMap(0.1,10,945,551);
 xAxis('x-axis-d',logX,logXLabels,fx,945,964); minorLog('x-axis-d',0.1,100,fx,945,-1,false);
 yAxis('y-axis-viscosity-d',dVTicks,dVLabels,fV,617,611,'end',1); minorLog('y-axis-viscosity-d',0.001,100,fV,617,1,true);
 yAxis('y-axis-stress-d',dSTicks,dSLabels,fS,965,971,'start',-1); minorLog('y-axis-stress-d',0.1,10,fS,965,-1,true);
 curve('carreau-fit-d',cy(dCY),0.1,100,fx,fV,'#555');
 curve('herschel-fit-d',hb(dHB),0.1,63,fx,fS,'#555');
 series('stress-up-d',freq,dS1,fx,fS,GR,false,'sq');
 series('stress-r-d',freq,dS2,fx,fS,GR,true,'ci');
 series('viscosity-up-d',freq,dV1,fx,fV,BL,false,'sq');
 series('viscosity-r-d',freq,dV2,fx,fV,BL,true,'ci');
}
// ---------------- PANEL E/F ----------------
function tack(tag,x0,fx,fF,fGap,F,G,det,FT,FL,labelL,axisR){
  xAxis('x-axis-'+tag,tTicks,tLabels,fx,1465,1485);
  yAxis('y-axis-force-'+tag,FT,FL,fF,x0,labelL,'end',1);
  yAxis('y-axis-gap-'+tag,gapTicks,gapLabels,fGap,axisR,axisR+7,'start',-1);
  series('gap-'+tag,tGap,G,fx,fGap,GR,false,'none',3.5);
  series('axial-force-'+tag,tF,F,fx,fF,BL,false,'pl',1.4,3);
  const bx=mk('polyline',{points:fx(det[0])+','+fF(det[1])+' '+fx(det[2])+','+fF(det[1])+' '+fx(det[2])+','+(fF(det[3])-6),fill:'none',stroke:'#444','stroke-width':0.9});
  
  
}
tack('e',77,linMap(0,600,77,433),linMap(-0.12,0.04,1465,1072),linMap(0,8000,1465,1072),eF,eGap,eDetach,eFTicks,eFLabels,70,433);
tack('f',603,linMap(0,600,603,960),linMap(-0.15,0.05,1465,1072),linMap(0,8000,1465,1072),fF,fGap,fDetach,fFTicks,fFLabels,596,960);
</script>
</body></html>
